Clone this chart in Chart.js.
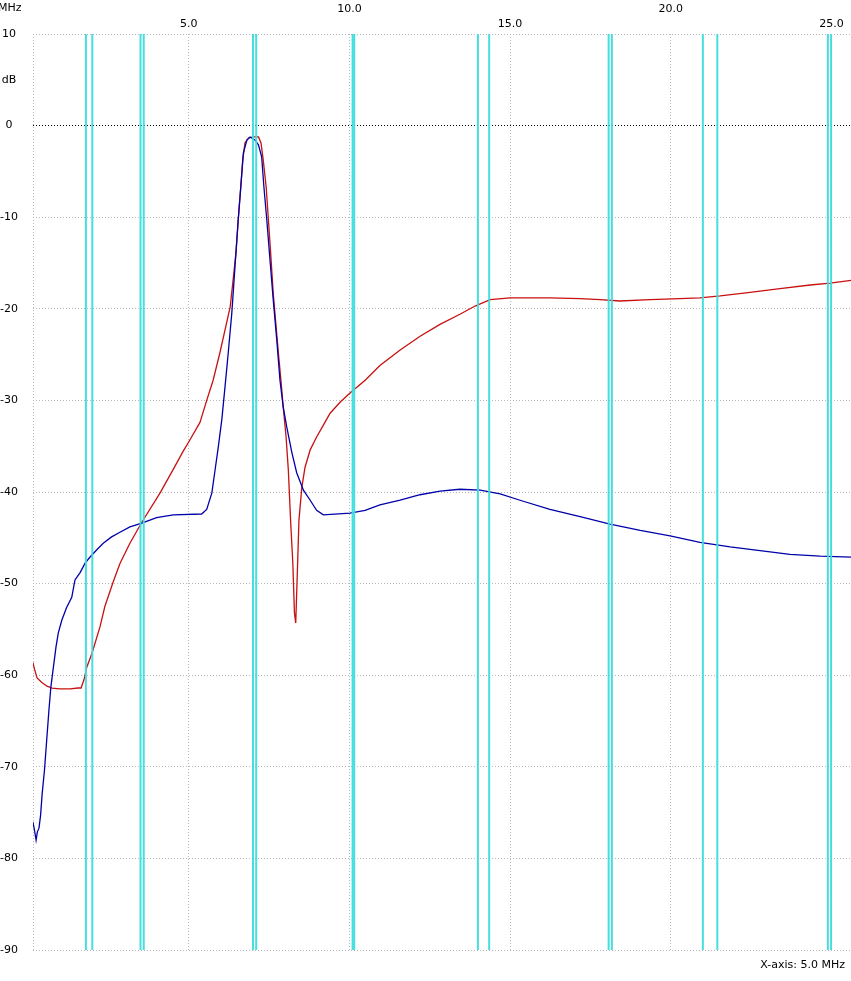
<!DOCTYPE html>
<html>
<head>
<meta charset="utf-8">
<script src="https://cdn.jsdelivr.net/npm/chart.js@4/dist/chart.umd.min.js"></script>
<style>
  html, body { margin: 0; padding: 0; background: #fff; overflow: hidden; }
  canvas { display: block; }
</style>
</head>
<body>
<canvas id="chart" width="851" height="981"></canvas>
<script>
// Частотная ось, МГц
const xMin = 0.154;
const xMax = 25.61;
const xTicks = [5, 10, 15, 20, 25];
const xTickText = ['5.0', '10.0', '15.0', '20.0', '25.0'];

// Ось уровня, дБ
const yTicks = [10, 5, 0, -10, -20, -30, -40, -50, -60, -70, -80, -90];
const yTickText = ['10', 'dB', '0', '-10', '-20', '-30', '-40', '-50', '-60', '-70', '-80', '-90'];

// Границы любительских диапазонов (голубые линии)
const bandEdges = [1.8, 2.0, 3.5, 3.6, 7.0, 7.1, 10.1, 10.15, 14.0, 14.35, 18.068, 18.168, 21.0, 21.45, 24.89, 24.99];

// Красная кривая
const redMHz = [0.15, 0.19, 0.28, 0.43, 0.59, 0.75, 0.99, 1.31, 1.55, 1.65, 1.74, 1.83, 1.99, 2.24, 2.39, 2.64,
  2.86, 3.17, 3.54, 4.11, 4.57, 4.82, 5.04, 5.35, 5.56, 5.76, 5.97, 6.13, 6.29, 6.38, 6.47, 6.54, 6.62, 6.68,
  6.75, 6.86, 7.01, 7.17, 7.25, 7.32, 7.41, 7.48, 7.55, 7.63, 7.72, 7.79, 7.87, 7.94, 8.03, 8.10, 8.17, 8.24,
  8.29, 8.33, 8.38, 8.43, 8.52, 8.62, 8.78, 8.98, 9.19, 9.40, 9.71, 10.02, 10.49, 10.95, 11.58, 12.20, 12.82,
  13.44, 13.91, 14.38, 15.00, 16.24, 17.18, 17.80, 18.42, 19.36, 20.29, 20.91, 21.54, 22.47, 23.40, 24.34, 24.96, 25.61];
const redDb = [-58.6, -59.2, -60.3, -60.8, -61.2, -61.4, -61.5, -61.5, -61.4, -61.4, -60.5, -59.1, -57.6, -54.7, -52.5, -49.9,
  -47.8, -45.6, -43.3, -40.1, -37.2, -35.6, -34.3, -32.4, -30.0, -27.8, -24.8, -22.3, -19.8, -16.9, -13.9, -10.3, -6.7, -3.8,
  -1.9, -1.35, -1.24, -1.24, -1.9, -3.8, -6.7, -10.3, -13.9, -18.3, -22.0, -24.8, -27.8, -30.7, -34.0, -37.6, -43.1, -47.8,
  -53.2, -54.3, -48.8, -43.1, -39.5, -37.3, -35.4, -34.0, -32.7, -31.4, -30.2, -29.2, -27.8, -26.2, -24.5, -23.0, -21.7,
  -20.6, -19.7, -19.0, -18.8, -18.8, -18.9, -19.0, -19.15, -19.0, -18.9, -18.8, -18.6, -18.2, -17.8, -17.4, -17.2, -16.9];

// Синяя кривая
const blueMHz = [0.15, 0.20, 0.25, 0.29, 0.34, 0.39, 0.44, 0.51, 0.58, 0.65, 0.71, 0.79, 0.87, 0.94, 1.05, 1.20,
  1.36, 1.46, 1.62, 1.77, 1.93, 2.14, 2.34, 2.60, 2.86, 3.17, 3.54, 4.00, 4.52, 5.40, 5.56, 5.72, 5.82, 5.92,
  6.03, 6.13, 6.23, 6.34, 6.44, 6.54, 6.62, 6.70, 6.81, 6.91, 7.06, 7.17, 7.27, 7.34, 7.43, 7.53, 7.63, 7.74,
  7.84, 7.94, 8.05, 8.21, 8.36, 8.57, 8.78, 8.98, 9.19, 10.02, 10.49, 10.95, 11.58, 12.20, 12.82, 13.44, 14.07,
  14.69, 15.31, 16.24, 17.18, 18.11, 19.05, 19.98, 20.91, 21.85, 22.78, 23.71, 24.65, 25.61];
const blueDb = [-76.0, -76.9, -78.0, -77.1, -76.7, -75.3, -72.9, -70.4, -67.1, -63.8, -61.3, -59.1, -56.9, -55.4, -54.0, -52.6,
  -51.5, -49.6, -48.8, -47.8, -47.1, -46.3, -45.6, -44.9, -44.4, -43.8, -43.4, -42.8, -42.5, -42.4, -41.9, -40.1, -37.6, -35.1,
  -32.1, -28.5, -24.8, -20.5, -15.4, -10.3, -6.7, -3.0, -1.57, -1.24, -1.57, -2.1, -3.4, -6.7, -10.3, -14.7, -19.0, -23.4,
  -27.8, -30.7, -32.9, -35.7, -37.9, -39.8, -40.9, -42.0, -42.5, -42.3, -42.0, -41.4, -40.9, -40.3, -39.9, -39.7, -39.8,
  -40.2, -40.9, -41.9, -42.7, -43.5, -44.2, -44.8, -45.5, -46.0, -46.4, -46.8, -47.0, -47.1];

const xUnitText = 'MHz';
const xScaleNote = 'X-axis: 5.0 MHz';

const FONT = '"DejaVu Sans", sans-serif';

function toPoints(xs, ys) {
  return xs.map((x, i) => ({ x: x, y: ys[i] }));
}

const datasets = [];
bandEdges.forEach(f => {
  datasets.push({
    data: [{ x: f, y: 10 }, { x: f, y: -90 }],
    borderColor: 'rgba(60, 220, 220, 0.95)',
    borderWidth: 2,
    pointRadius: 0,
    order: 0
  });
});
datasets.push({
  data: toPoints(blueMHz, blueDb),
  borderColor: '#0000aa',
  borderWidth: 1.3,
  pointRadius: 0,
  order: 1
});
datasets.push({
  data: toPoints(redMHz, redDb),
  borderColor: '#c81010',
  borderWidth: 1.3,
  pointRadius: 0,
  order: 2
});

// Подписи "MHz" и "X-axis"
const extraText = {
  id: 'extraText',
  afterDraw(chart) {
    const c = chart.ctx;
    c.save();
    c.font = '11px ' + FONT;
    c.fillStyle = '#000';
    c.textBaseline = 'middle';
    c.textAlign = 'left';
    c.fillText(xUnitText, -2, 8);
    c.textAlign = 'right';
    c.fillText(xScaleNote, chart.width - 6, 965);
    c.restore();
  }
};

new Chart(document.getElementById('chart'), {
  type: 'line',
  data: { datasets: datasets },
  options: {
    responsive: false,
    animation: false,
    layout: { padding: { left: 0, right: 0, top: 0, bottom: 31 } },
    plugins: { legend: { display: false }, tooltip: { enabled: false } },
    elements: { line: { tension: 0 } },
    scales: {
      x: {
        type: 'linear',
        position: 'top',
        min: xMin,
        max: xMax,
        afterBuildTicks: s => { s.ticks = [xMin].concat(xTicks).map(v => ({ value: v })); },
        afterFit: s => { s.height = 34; },
        grid: { color: '#b8b8b8', lineWidth: 1, drawTicks: false },
        border: { display: false, dash: [1, 2] },
        ticks: {
          autoSkip: false,
          maxRotation: 0,
          padding: 3,
          color: '#000',
          font: { family: FONT, size: 11, lineHeight: 1.3 },
          callback: (v) => {
            const i = xTicks.indexOf(v);
            if (i < 0) return '';
            return i % 2 === 1 ? [xTickText[i], ''] : xTickText[i];
          }
        }
      },
      y: {
        type: 'linear',
        min: -90,
        max: 10,
        afterBuildTicks: s => { s.ticks = yTicks.map(v => ({ value: v })); },
        afterFit: s => { s.width = 33; },
        grid: {
          drawTicks: false,
          lineWidth: 1,
          color: ctx => {
            const v = ctx.tick ? ctx.tick.value : null;
            if (v === 0) return '#000';
            if (v === 5) return 'rgba(0,0,0,0)';
            return '#b8b8b8';
          }
        },
        border: { display: false, dash: [1, 2] },
        ticks: {
          autoSkip: false,
          crossAlign: 'center',
          padding: 15,
          color: '#000',
          font: { family: FONT, size: 11 },
          callback: (v) => {
            const i = yTicks.indexOf(v);
            return i < 0 ? '' : yTickText[i];
          }
        }
      }
    }
  },
  plugins: [extraText]
});
</script>
</body>
</html>
